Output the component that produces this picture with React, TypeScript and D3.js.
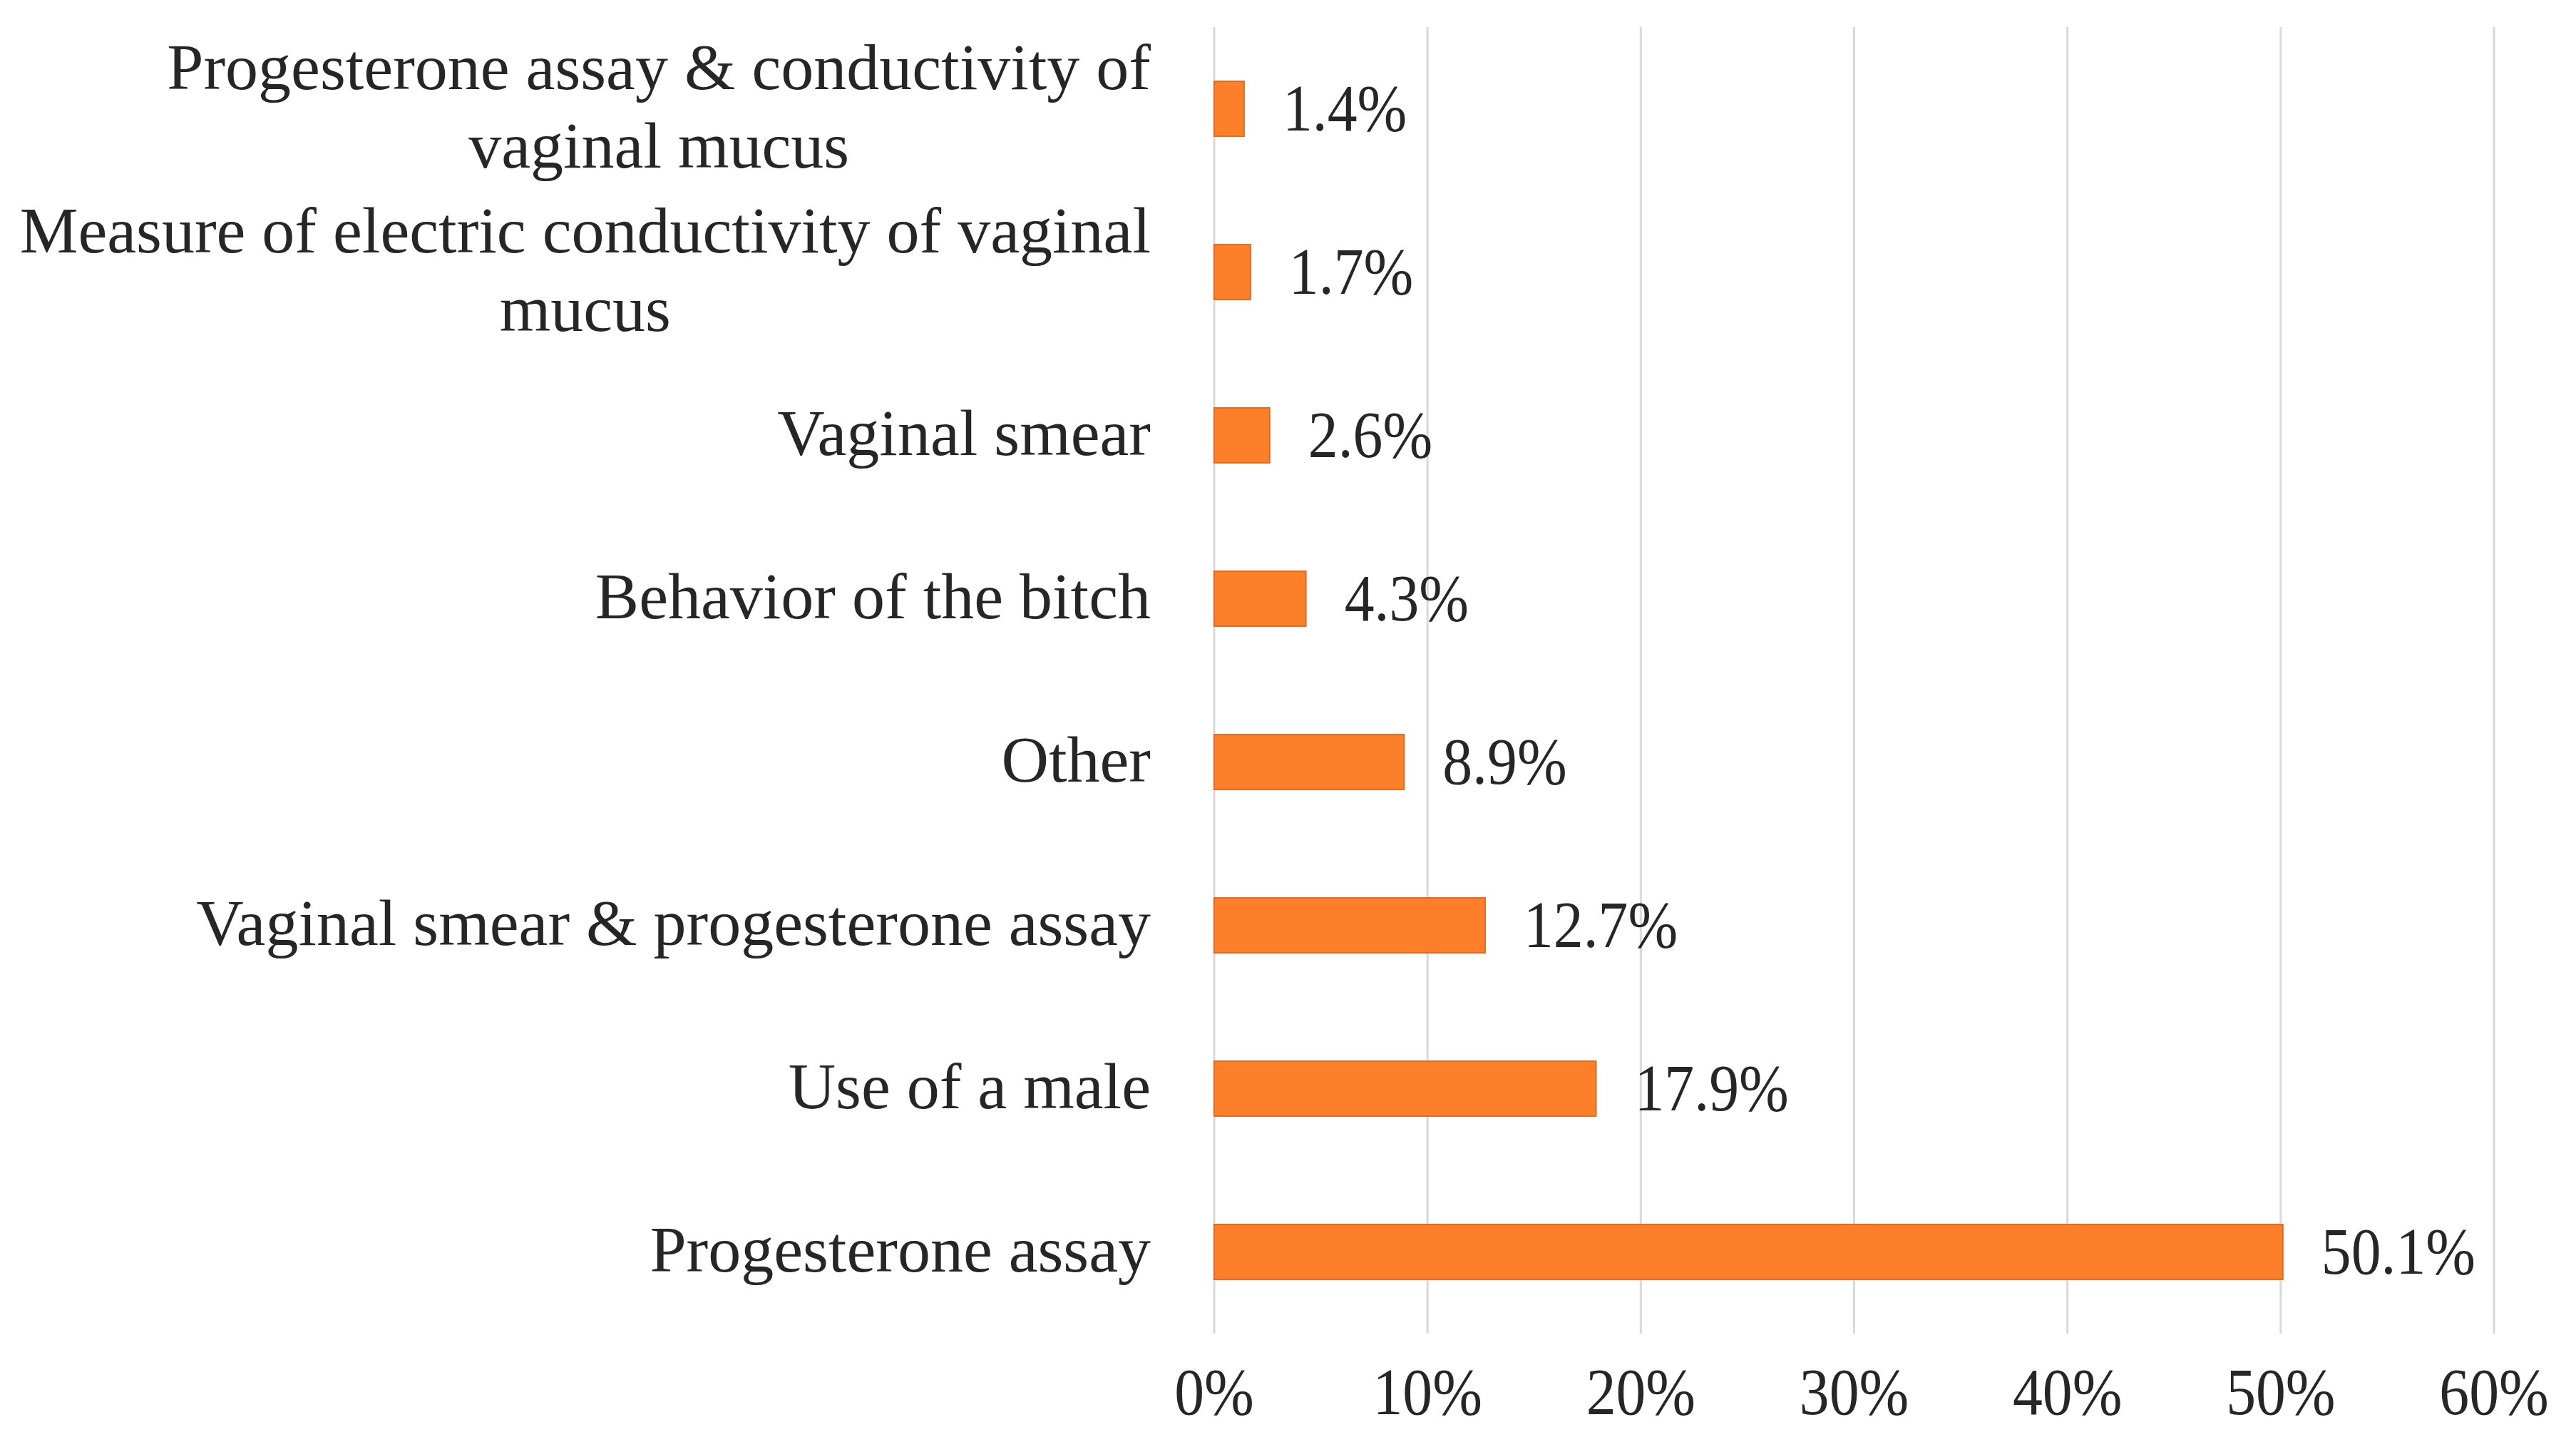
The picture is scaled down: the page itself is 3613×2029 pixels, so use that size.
import React, { useEffect, useRef } from "react";
import * as d3 from "d3";

const categories = [
  "Progesterone assay & conductivity of\nvaginal mucus",
  "Measure of electric conductivity of vaginal\nmucus",
  "Vaginal smear",
  "Behavior of the bitch",
  "Other",
  "Vaginal smear & progesterone assay",
  "Use of a male",
  "Progesterone assay",
];
const values = [1.4, 1.7, 2.6, 4.3, 8.9, 12.7, 17.9, 50.1];
const xTicks = [0, 10, 20, 30, 40, 50, 60];

const W = 3613;
const H = 2029;
const FONT = "'Liberation Serif', 'DejaVu Serif', serif";

export default function App() {
  const ref = useRef<SVGSVGElement | null>(null);

  useEffect(() => {
    document.body.style.margin = "0";
    const svg = d3.select(ref.current);
    svg.selectAll("*").remove();

    const x = d3.scaleLinear().domain([0, 60]).range([1703, 3498]);
    const y = d3
      .scaleBand<string>()
      .domain(categories)
      .range([38, 1870])
      .paddingInner(0.664)
      .paddingOuter(0.332);

    const bandC = (c: string) => (y(c) as number) + y.bandwidth() / 2;

    // gridlines
    svg
      .append("g")
      .selectAll("line")
      .data(xTicks)
      .join("line")
      .attr("x1", (d) => x(d))
      .attr("x2", (d) => x(d))
      .attr("y1", 38)
      .attr("y2", 1870)
      .attr("stroke", "#D9D9D9")
      .attr("stroke-width", 3);

    // bars
    svg
      .append("g")
      .selectAll("rect")
      .data(values)
      .join("rect")
      .attr("x", x(0))
      .attr("y", (_, i) => y(categories[i]) as number)
      .attr("width", (d) => x(d) - x(0))
      .attr("height", y.bandwidth())
      .attr("fill", "#FE7F29")
      .attr("stroke", "#E8681C")
      .attr("stroke-width", 2);

    // data labels
    svg
      .append("g")
      .selectAll("text")
      .data(values)
      .join("text")
      .attr(
        "transform",
        (d, i) => `translate(${x(d) + 54},${bandC(categories[i])}) scale(0.9,1)`
      )
      .attr("dy", "0.33em")
      .attr("font-family", FONT)
      .attr("font-size", 93)
      .attr("fill", "#262626")
      .text((d) => `${d.toFixed(1)}%`);

    // tick labels
    svg
      .append("g")
      .selectAll("text")
      .data(xTicks)
      .join("text")
      .attr("transform", (d) => `translate(${x(d)},1983) scale(0.9,1)`)
      .attr("text-anchor", "middle")
      .attr("font-family", FONT)
      .attr("font-size", 93)
      .attr("fill", "#262626")
      .text((d) => `${d}%`);

    // category labels
    const labelRight = 1614;
    const lineH = 110;
    const fs = 92;
    const g = svg.append("g");
    categories.forEach((c) => {
      const lines = c.split("\n");
      const cy = bandC(c);
      const n = lines.length;
      const first = g
        .append("text")
        .attr("x", labelRight)
        .attr("y", cy - ((n - 1) * lineH) / 2)
        .attr("dy", "0.3em")
        .attr("text-anchor", "end")
        .attr("font-family", FONT)
        .attr("font-size", fs)
        .attr("fill", "#262626")
        .text(lines[0]);
      if (n > 1) {
        const w = (first.node() as SVGTextElement).getComputedTextLength();
        for (let k = 1; k < n; k++) {
          g.append("text")
            .attr("x", labelRight - w / 2)
            .attr("y", cy - ((n - 1) * lineH) / 2 + k * lineH)
            .attr("dy", "0.3em")
            .attr("text-anchor", "middle")
            .attr("font-family", FONT)
            .attr("font-size", fs)
            .attr("fill", "#262626")
            .text(lines[k]);
        }
      }
    });
  }, []);

  return (
    <svg
      ref={ref}
      width={W}
      height={H}
      viewBox={`0 0 ${W} ${H}`}
      style={{ display: "block", background: "#fff" }}
    />
  );
}
